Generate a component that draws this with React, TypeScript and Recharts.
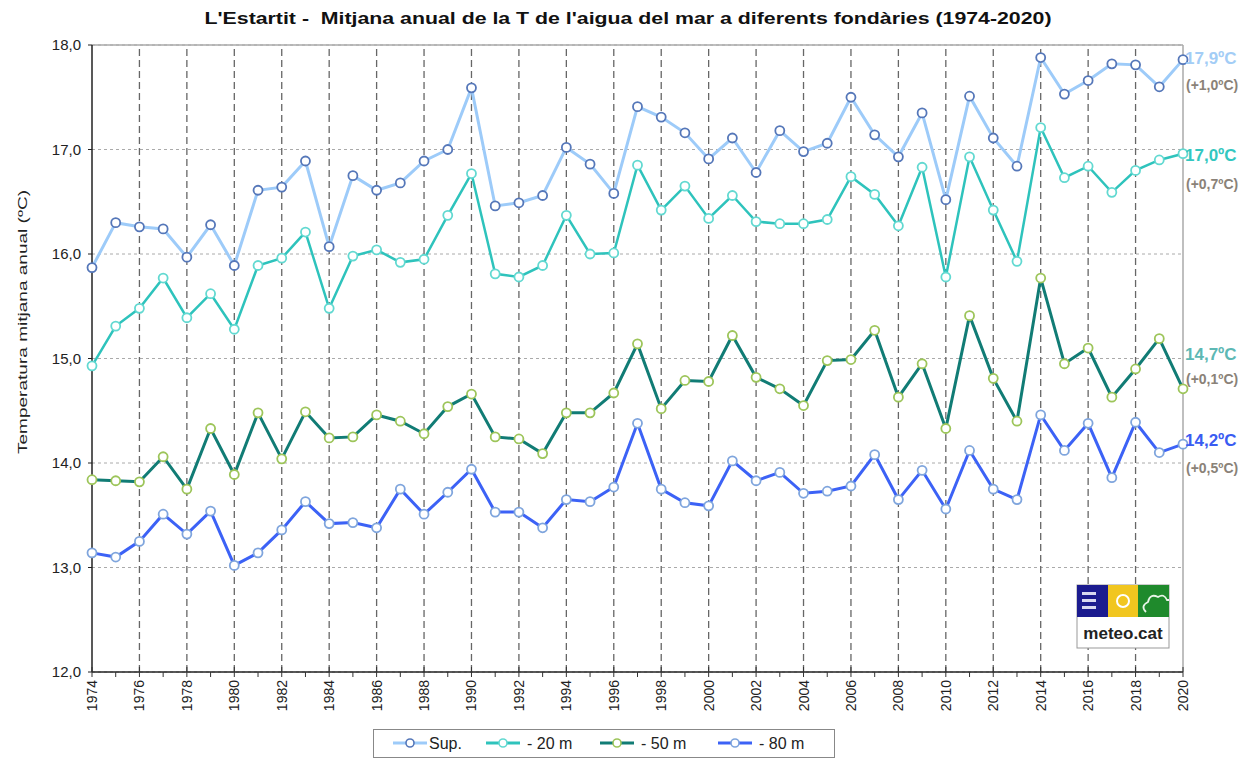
import React from 'react';
import { LineChart, Line, XAxis, YAxis, CartesianGrid, ReferenceLine } from 'recharts';

const years = [
  1974, 1975, 1976, 1977, 1978, 1979, 1980, 1981, 1982, 1983, 1984, 1985, 1986, 1987, 1988, 1989,
  1990, 1991, 1992, 1993, 1994, 1995, 1996, 1997, 1998, 1999, 2000, 2001, 2002, 2003, 2004, 2005,
  2006, 2007, 2008, 2009, 2010, 2011, 2012, 2013, 2014, 2015, 2016, 2017, 2018, 2019, 2020,
];

const sup = [
  15.87, 16.3, 16.26, 16.24, 15.97, 16.28, 15.89, 16.61, 16.64, 16.89, 16.07, 16.75, 16.61, 16.68, 16.89, 17.0,
  17.59, 16.46, 16.49, 16.56, 17.02, 16.86, 16.58, 17.41, 17.31, 17.16, 16.91, 17.11, 16.78, 17.18, 16.98, 17.06,
  17.5, 17.14, 16.93, 17.35, 16.52, 17.51, 17.11, 16.84, 17.88, 17.53, 17.66, 17.82, 17.81, 17.6, 17.86,
];

const m20 = [
  14.93, 15.31, 15.48, 15.77, 15.39, 15.62, 15.28, 15.89, 15.96, 16.21, 15.48, 15.98, 16.04, 15.92, 15.95, 16.37,
  16.77, 15.81, 15.78, 15.89, 16.37, 16.0, 16.01, 16.85, 16.42, 16.65, 16.34, 16.56, 16.31, 16.29, 16.29, 16.33,
  16.74, 16.57, 16.27, 16.83, 15.78, 16.93, 16.42, 15.93, 17.21, 16.73, 16.84, 16.59, 16.8, 16.9, 16.96,
];

const m50 = [
  13.84, 13.83, 13.82, 14.06, 13.75, 14.33, 13.89, 14.48, 14.04, 14.49, 14.24, 14.25, 14.46, 14.4, 14.28, 14.54,
  14.66, 14.25, 14.23, 14.09, 14.48, 14.48, 14.67, 15.14, 14.52, 14.79, 14.78, 15.22, 14.82, 14.71, 14.55, 14.98,
  14.99, 15.27, 14.63, 14.95, 14.33, 15.41, 14.81, 14.4, 15.77, 14.95, 15.1, 14.63, 14.9, 15.19, 14.71,
];

const m80 = [
  13.14, 13.1, 13.25, 13.51, 13.32, 13.54, 13.02, 13.14, 13.36, 13.63, 13.42, 13.43, 13.38, 13.75, 13.51, 13.72,
  13.94, 13.53, 13.53, 13.38, 13.65, 13.63, 13.77, 14.38, 13.75, 13.62, 13.59, 14.02, 13.83, 13.91, 13.71, 13.73,
  13.78, 14.08, 13.65, 13.93, 13.56, 14.12, 13.75, 13.65, 14.46, 14.12, 14.38, 13.86, 14.39, 14.1, 14.18,
];

const yTicks = [12, 13, 14, 15, 16, 17, 18];
const gridYears = [1976, 1978, 1980, 1982, 1984, 1986, 1988, 1990, 1992, 1994, 1996, 1998, 2000, 2002, 2004, 2006, 2008, 2010, 2012, 2014, 2016, 2018];

const endLabels = ['17,9ºC', '17,0ºC', '14,7ºC', '14,2ºC'];
const endDeltas = ['(+1,0ºC)', '(+0,7ºC)', '(+0,1ºC)', '(+0,5ºC)'];

const series = [
  { key: 'sup', name: 'Sup.', line: '#9dcbf9', width: 3, dot: '#5577b9', labelColor: '#a3cdf6' },
  { key: 'm20', name: '- 20 m', line: '#2ec3bc', width: 2.5, dot: '#62d9d1', labelColor: '#33c7c0' },
  { key: 'm50', name: '- 50 m', line: '#117c75', width: 3, dot: '#9dc55a', labelColor: '#5db8b4' },
  { key: 'm80', name: '- 80 m', line: '#3c62f6', width: 3, dot: '#7fa5dd', labelColor: '#3a5cf2' },
];

const data = years.map((year, i) => ({ year, sup: sup[i], m20: m20[i], m50: m50[i], m80: m80[i] }));

const FONT = '"Liberation Sans", Arial, sans-serif';

const YearTick = (props: any) => {
  const { x, y, payload } = props;
  const even = payload.value % 2 === 0;
  return (
    <g>
      <line x1={x} x2={x} y1={even ? y - 5 : y} y2={y + 5} stroke="#333" strokeWidth={1} />
      {even && (
        <text
          transform={`translate(${x + 5},${y + 8}) rotate(-90)`}
          textAnchor="end"
          fontSize={14}
          fontFamily={FONT}
          fill="#222"
        >
          {payload.value}
        </text>
      )}
    </g>
  );
};

// where the end-of-series labels sit (baseline y)
const labelY = [64, 161, 360, 446];
const deltaY = [90, 189, 384, 473];
const legendX = [393, 486, 600, 718];

export default function App() {
  return (
    <div style={{ position: 'absolute', left: 0, top: 0, width: 1244, height: 758, background: '#fff', fontFamily: FONT }}>
      <LineChart width={1244} height={758} data={data} margin={{ top: 45, right: 61, left: 42, bottom: 36 }}>
        <CartesianGrid vertical={false} stroke="#aaa" strokeDasharray="3 3" />
        {gridYears.map((yr) => (
          <ReferenceLine key={yr} x={yr} stroke="#666" strokeWidth={1.3} strokeDasharray="7 4" />
        ))}
        <ReferenceLine y={18} stroke="#aaa" strokeWidth={1.5} />
        <ReferenceLine x={2020} stroke="#aaa" strokeWidth={1.5} />
        <XAxis
          dataKey="year"
          type="number"
          domain={[1974, 2020]}
          ticks={years}
          interval={0}
          tick={<YearTick />}
          tickLine={false}
          tickSize={0}
          tickMargin={0}
          height={50}
          axisLine={{ stroke: '#222', strokeWidth: 1.5 }}
        />
        <YAxis
          type="number"
          domain={[12, 18]}
          ticks={yTicks}
          width={50}
          tickSize={4}
          tickMargin={7}
          tickFormatter={(v: number) => v.toFixed(1).replace('.', ',')}
          tick={{ fontSize: 15, fill: '#222', fontFamily: FONT }}
          tickLine={{ stroke: '#222' }}
          axisLine={{ stroke: '#222', strokeWidth: 1.5 }}
        />
        {series.map((s) => (
          <Line
            key={s.key}
            dataKey={s.key}
            name={s.name}
            stroke={s.line}
            strokeWidth={s.width}
            dot={{ r: 4.5, stroke: s.dot, strokeWidth: 1.8, fill: '#fff' }}
            isAnimationActive={false}
          />
        ))}
      </LineChart>

      <svg width={1244} height={758} style={{ position: 'absolute', left: 0, top: 0, pointerEvents: 'none' }}>
        <text x={628} y={24} textAnchor="middle" fontSize={16} fontWeight="bold" fill="#111" fontFamily={FONT} textLength={847} lengthAdjust="spacingAndGlyphs" style={{ whiteSpace: 'pre' }}>
          {"L'Estartit -  Mitjana anual de la T de l'aigua del mar a diferents fondàries (1974-2020)"}
        </text>
        <text transform="translate(27,322) rotate(-90)" textAnchor="middle" fontSize={13} fill="#222" fontFamily={FONT} textLength={264} lengthAdjust="spacingAndGlyphs">
          Temperatura mitjana anual (ºC)
        </text>

        {series.map((s, i) => (
          <g key={s.key}>
            <text x={1185} y={labelY[i]} fontSize={17} fontWeight="bold" fill={s.labelColor} fontFamily={FONT}>
              {endLabels[i]}
            </text>
            <text x={1186} y={deltaY[i]} fontSize={14} fontWeight="bold" fill="#8a8278" fontFamily={FONT}>
              {endDeltas[i]}
            </text>
          </g>
        ))}

        {/* legend */}
        <rect x={373.5} y={729.5} width={461} height={28} fill="#fff" stroke="#888" />
        {series.map((s, i) => (
          <g key={s.key}>
            <line x1={legendX[i]} x2={legendX[i] + 34} y1={743} y2={743} stroke={s.line} strokeWidth={3} />
            <circle cx={legendX[i] + 17} cy={743} r={4} fill="#fff" stroke={s.dot} strokeWidth={1.6} />
            <text x={legendX[i] + (i === 0 ? 36 : 41)} y={749} fontSize={16} fill="#222" fontFamily={FONT} style={{ whiteSpace: 'pre' }}>
              {s.name}
            </text>
          </g>
        ))}

        {/* meteo.cat logo */}
        <g>
          <rect x={1077} y={585} width={92} height={63} fill="#fff" stroke="#999" />
          <rect x={1077} y={585} width={31} height={32} fill="#1b1b8f" />
          <rect x={1082} y={592} width={14} height={3} fill="#d8d8f0" />
          <rect x={1082} y={599} width={14} height={3} fill="#d8d8f0" />
          <rect x={1082} y={606} width={14} height={3} fill="#d8d8f0" />
          <rect x={1108} y={585} width={30} height={32} fill="#f1c61f" />
          <circle cx={1123} cy={601} r={6} fill="none" stroke="#fff" strokeWidth={2} />
          <rect x={1138} y={585} width={31} height={32} fill="#1f8a2c" />
          <path d="M1146 612 q-6 -6 2 -10 q2 -9 10 -5 q6 -4 9 3 l2 0" fill="none" stroke="#e8f5e8" strokeWidth={1.8} />
          <text x={1123} y={639} textAnchor="middle" fontSize={17} fontWeight="bold" fill="#222" fontFamily={FONT}>
            meteo.cat
          </text>
        </g>
      </svg>
    </div>
  );
}
